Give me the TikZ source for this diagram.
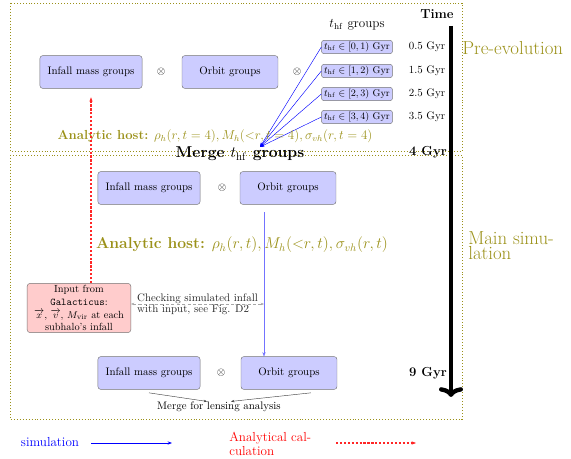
\documentclass[tikz,border=0pt]{standalone}
\usepackage{amsmath,amssymb}
\usepackage{tikz}
\usetikzlibrary{arrows.meta,positioning,calc}
\definecolor{hostOlive}{RGB}{155,145,25}
\definecolor{boxBlue}{RGB}{204,204,255}
\definecolor{boxRed}{RGB}{255,204,204}

\begin{document}
\begin{tikzpicture}[x=0.917pt,y=-0.917pt,
    groupbox/.style={draw=black!55, fill=boxBlue, rounded corners=2.5pt,
      minimum width=88pt, minimum height=30pt, inner xsep=7pt},
    hfbox/.style={draw=black!55, fill=boxBlue, rounded corners=2pt, font=\small,
      inner xsep=2pt, inner ysep=1.5pt, minimum width=65pt},
    phasebox/.style={draw=hostOlive, dotted, line width=0.7pt},
    simarrow/.style={-{Stealth[length=4pt]}, blue},
    calcarrow/.style={-{Stealth[length=4pt]}, draw=red!85, dash pattern=on 2pt off 1.6pt, line width=1pt}]
    \useasboundingbox (0,0) rectangle (571,459);
    % Phases
    \draw[phasebox] (10,3) rectangle (462,151);
    \draw[phasebox] (10,155) rectangle (462,419);
    \node[anchor=west, hostOlive, font=\LARGE, inner sep=1pt] (preevo) at (461,48) {Pre-evolution};
    \node[anchor=west, hostOlive, font=\fontsize{17.28}{14}\selectfont, align=left, inner sep=1pt]
      (mainsim) at (467,246) {Main simu-\\lation};
    % Time axis
    \draw[line width=4pt, -{Computer Modern Rightarrow[length=9pt,width=22pt]}] (451,26) -- (451,397);
    \node[font=\large\bfseries] (timelabel) at (437,14) {Time};
    \node[font=\large\bfseries] (fourgyr) at (428,152) {4 Gyr};
    \node[font=\large\bfseries] (ninegyr) at (428,373) {9 Gyr};
    % t_hf groups
    \node[font=\large] (hfhead) at (357,25) {$t_{\rm hf}$ groups};
    \coordinate (hfmerge) at (260,147);
    \foreach \i/\y/\tmid in {0/47/0.5,1/71/1.5,2/94/2.5,3/117/3.5} {
      \pgfmathtruncatemacro{\j}{\i+1}
      \node[hfbox] (hf\i) at (357,\y) {$t_{\rm hf}\in[\i,\j)$ Gyr};
      \node (gyr\i) at (427,\y) {\tmid\ Gyr};
      \draw[-{Stealth[length=4pt]}, blue] (hf\i.west) -- (hfmerge);
    }
    % Pre-evolution groups
    \node[groupbox] (infallA) at (91,72) {Infall mass groups};
    \node (timesA) at (161,72) {$\otimes$};
    \node[groupbox] (orbitA) at (230,72) {Orbit groups};
    \node (timesB) at (297,72) {$\otimes$};
    \node[hostOlive, font=\large] (hostA) at (215,136)
      {\textbf{Analytic host:} $\rho_h(r,t=4), M_h({<}r,t=4), \sigma_{vh}(r,t=4)$};
    \node[font=\Large\bfseries] (mergehf) at (240,154) {Merge $t_{\rm hf}$ groups};
    % Main simulation groups
    \node[groupbox] (infallB) at (149,188) {Infall mass groups};
    \node (timesC) at (222,188) {$\otimes$};
    \node[groupbox] (orbitB) at (288,188) {Orbit groups};
    \node[hostOlive, font=\Large] (hostB) at (242,245)
      {\textbf{Analytic host:} $\rho_h(r,t), M_h({<}r,t), \sigma_{vh}(r,t)$};
    % Input from Galacticus
    \node[draw=black!55, fill=boxRed, rounded corners=2.5pt, align=center,
      font=\fontsize{9.5}{11.8}\selectfont, inner sep=0.5pt, minimum width=95pt, minimum height=45pt]
      (input) at (79,308) {Input from\\\texttt{Galacticus}:\\$\overrightarrow{x}$, $\overrightarrow{v}$, $M_{\rm vir}$ at each\\subhalo's infall};
    \draw[calcarrow, shorten >=8pt] (input.north -| infallA.south) -- (infallA.south);
    % Simulation run
    \coordinate (simx) at (264,280);
    \node[groupbox] (infallC) at (149,373) {Infall mass groups};
    \node (timesD) at (221,373) {$\otimes$};
    \node[groupbox] (orbitC) at (289,373) {Orbit groups};
    \draw[simarrow, blue!55, shorten <=7pt] (orbitB.south -| simx) -- (orbitC.north -| simx);
    % Check against input
    \coordinate (checkend) at (264,304);
    \draw[{Stealth[length=3pt]}-{Stealth[length=3pt]}, gray!70, densely dashed]
      (input.east |- checkend) -- (checkend)
      node[midway, align=left, text=black!85, font=\fontsize{10}{10}\selectfont] {Checking simulated infall\\with input, see Fig. D2};
    % Merge for lensing
    \node (lensmerge) at (219,407) {Merge for lensing analysis};
    \draw[-{Stealth[length=3pt]}, black!75] ([yshift=-3pt]infallC.south) -- ([xshift=-11pt,yshift=-3pt]lensmerge.north);
    \draw[-{Stealth[length=3pt]}, black!75] ([xshift=20pt,yshift=-3pt]orbitC.south) -- ([xshift=11pt,yshift=-3pt]lensmerge.north);
    % Legend
    \node[blue, font=\large] (legsim) at (50,442) {simulation};
    \coordinate (legsimA) at (91,443);
    \coordinate (legsimB) at (172,443);
    \draw[simarrow, line width=0.9pt] (legsimA) -- (legsimB);
    \node[red, font=\fontsize{12}{12.5}\selectfont, align=left, anchor=west, inner sep=1pt] (legcalc) at (228,444) {Analytical cal-\\culation};
    \coordinate (legcalcA) at (336,443);
    \coordinate (legcalcB) at (416,443);
    \draw[calcarrow] (legcalcA) -- (legcalcB);
\end{tikzpicture}
\end{document}
